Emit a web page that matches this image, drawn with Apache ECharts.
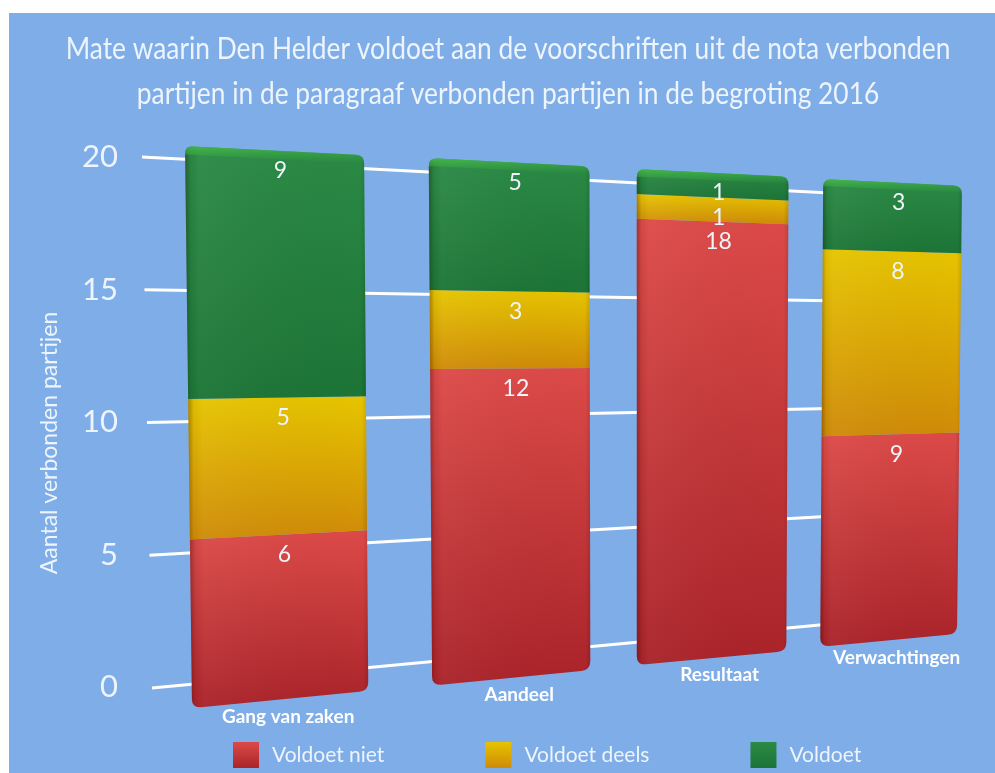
<!DOCTYPE html>
<html><head><meta charset="utf-8">
<style>html,body{margin:0;padding:0;background:#fff}#c{width:995px;height:773px}</style>
<script src="https://cdn.jsdelivr.net/npm/echarts@6/dist/echarts.min.js"></script>
</head><body><div id="c"></div>
<script>
const titleText = 'Mate waarin Den Helder voldoet aan de voorschriften uit de nota verbonden\npartijen in de paragraaf verbonden partijen in de begroting 2016';
const axisName = 'Aantal verbonden partijen';
const categories = ['Gang van zaken','Aandeel','Resultaat','Verwachtingen'];
const voldoetNiet = [6,12,18,9];
const voldoetDeels = [5,3,1,8];
const voldoet = [9,5,1,3];
const ticks = [0,5,10,15,20];

const FONT = 'Lato,"Open Sans",sans-serif';
const TXT = '#EEF4FC';

// perspective helpers: (u,v) in the unit square -> picture plane
const bend = (u,k)=>u*(1+k)/(1+k*u);
function plane(tl,tr,br,bl,k){
  return (u,v)=>{
    const f=bend(u,k);
    const xl=tl[0]+(bl[0]-tl[0])*v, xr=tr[0]+(br[0]-tr[0])*v;
    const yt=tl[1]+(tr[1]-tl[1])*f, yb=bl[1]+(br[1]-bl[1])*f;
    return [xl+(xr-xl)*f, yt+(yb-yt)*v];
  };
}
const barPlane = plane([185,146],[961,186],[956,634],[192,708],0.2);
const gridPlane = plane([142,157],[830,193],[830,624],[152,688],0);
const BAR_FLAT = 157.5;
const edgeNudge = [[0,0],[8,7],[3,8],[-4,1]]; // left and right edge of each bar, in the picture plane

function rounded(c,r){ // c: tl,tr,br,bl ; r: radius per corner
  const out=[];
  for(let i=0;i<4;i++){
    const p=c[i],a=c[(i+3)%4],b=c[(i+1)%4],R=r[i];
    if(!R){out.push(p);continue;}
    const la=Math.hypot(a[0]-p[0],a[1]-p[1]),lb=Math.hypot(b[0]-p[0],b[1]-p[1]);
    const s=[p[0]+(a[0]-p[0])*R/la,p[1]+(a[1]-p[1])*R/la],e=[p[0]+(b[0]-p[0])*R/lb,p[1]+(b[1]-p[1])*R/lb];
    for(let t=0;t<=1.001;t+=0.25){const m=1-t;out.push([m*m*s[0]+2*m*t*p[0]+t*t*e[0],m*m*s[1]+2*m*t*p[1]+t*t*e[1]]);}
  }
  return out;
}
function vGrad(top,bottom){return new echarts.graphic.LinearGradient(0,0,0,1,[{offset:0,color:top},{offset:1,color:bottom}]);}
function hShade(){return new echarts.graphic.LinearGradient(0,0,1,0,[
  {offset:0,color:'rgba(60,0,0,0.32)'},{offset:0.03,color:'rgba(0,0,0,0.04)'},{offset:0.08,color:'rgba(255,255,255,0.04)'},
  {offset:0.97,color:'rgba(0,0,0,0)'},{offset:1,color:'rgba(0,0,0,0.12)'}]);}

const lower = categories.map(()=>0);
function stackSeries(name, values, gradTop, gradBottom, opts){
  const base = values.map((v,i)=>{const s=lower[i];lower[i]+=v;return s;});
  return {
    type:'custom', name, z:3, clip:false,
    itemStyle:{color:vGrad(gradTop,gradBottom)},
    data: values.map((v,i)=>[i,base[i],base[i]+v,v]),
    encode:{x:0,y:[1,2]},
    renderItem(params,api){
      const cs=params.coordSys, i=api.value(0);
      const cx=api.coord([i,0])[0];
      const m=(cs.width/categories.length-BAR_FLAT)/2;
      const P=(side,val)=>{
        const x=cx+(side?1:-1)*BAR_FLAT/2;
        const u=(x-cs.x-m)/(cs.width-2*m);
        const v=(api.coord([i,val])[1]-cs.y)/cs.height;
        const p=barPlane(u,v);
        return [p[0]+edgeNudge[i][side],p[1]];
      };
      const s=api.value(1),e=api.value(2);
      const tl=P(0,e),tr=P(1,e),br=P(1,s),bl=P(0,s);
      const isBottom=s===0,isTop=opts&&opts.top;
      const rB=isBottom?9:0,rT=isTop?8:0;
      const pts=rounded([tl,tr,br,bl],[rT,rT,rB,rB]);
      const children=[
        {type:'polygon',shape:{points:pts},style:{fill:vGrad(gradTop,gradBottom)}},
        {type:'polygon',shape:{points:pts},style:{fill:hShade()}}
      ];
      if(isTop){
        const c=P(1,e-0.3),g=P(0,e-0.3);
        children.push({type:'polygon',shape:{points:rounded([tl,tr,c,g],[rT,rT,0,0])},
          style:{fill:new echarts.graphic.LinearGradient(0,0,0,1,[{offset:0,color:'rgba(70,190,70,0.8)'},{offset:1,color:'rgba(60,170,70,0)'}])}});
      }
      const mid=[(tl[0]+tr[0])/2,(tl[1]+tr[1])/2];
      children.push({type:'text',style:{text:String(api.value(3)),x:mid[0]+6,y:mid[1]+20,fill:TXT,
        font:'23px '+FONT,align:'center',verticalAlign:'middle'}});
      if(isBottom){
        const bm=[(bl[0]+br[0])/2,(bl[1]+br[1])/2];
        children.push({type:'text',style:{text:categories[i],x:bm[0]+8,y:bm[1]+17,fill:'#FFFFFF',
          font:'bold 19px '+FONT,align:'center',verticalAlign:'middle'}});
      }
      return {type:'group',children};
    }
  };
}

const option = {
  animation:false,
  backgroundColor:'#FFFFFF',
  graphic:[
    {type:'rect',z:-10,silent:true,shape:{x:9,y:13,width:986,height:760},style:{fill:'#7FADE8'}},
    {type:'text',z:5,silent:true,x:508,y:26,scaleX:0.85,
      style:{text:titleText,font:'31px '+FONT,fill:TXT,align:'center',verticalAlign:'top',lineHeight:45}}
  ],
  legend:{left:228,top:737,itemWidth:26,itemHeight:26,itemGap:101,icon:'rect',
    data:['Voldoet niet','Voldoet deels','Voldoet'],
    textStyle:{color:TXT,fontFamily:FONT,fontSize:21,padding:[0,0,0,8]}},
  grid:{left:130,right:25,top:157,bottom:86},
  xAxis:{type:'category',data:categories,axisLabel:{show:false},axisTick:{show:false},axisLine:{show:false}},
  yAxis:{type:'value',min:0,max:20,interval:5,
    name:axisName,nameLocation:'middle',nameGap:69,nameRotate:90,
    nameTextStyle:{color:TXT,fontFamily:FONT,fontSize:23,padding:[0,42,0,0]},
    axisLine:{show:false},axisTick:{show:false},splitLine:{show:false},
    axisLabel:{color:TXT,fontFamily:FONT,fontSize:31,margin:12}},
  series:[
    {type:'custom',name:'Rasterlijnen',z:1,clip:false,silent:true,data:ticks.map(t=>[0,t]),encode:{x:0,y:1},
      renderItem(params,api){
        const cs=params.coordSys;
        const v=(api.coord([0,api.value(1)])[1]-cs.y)/cs.height;
        const a=gridPlane(0,v),b=gridPlane(1,v);
        return {type:'line',shape:{x1:a[0],y1:a[1],x2:b[0],y2:b[1]},style:{stroke:'#FFFFFF',lineWidth:3}};
      }},
    stackSeries('Voldoet niet',voldoetNiet,'#DC4A48','#A92329'),
    stackSeries('Voldoet deels',voldoetDeels,'#E6C400','#CF8A08'),
    stackSeries('Voldoet',voldoet,'#2B8A45','#1C7436',{top:true})
  ]
};
echarts.init(document.getElementById('c'),null,{renderer:'canvas'}).setOption(option);
</script></body></html>
